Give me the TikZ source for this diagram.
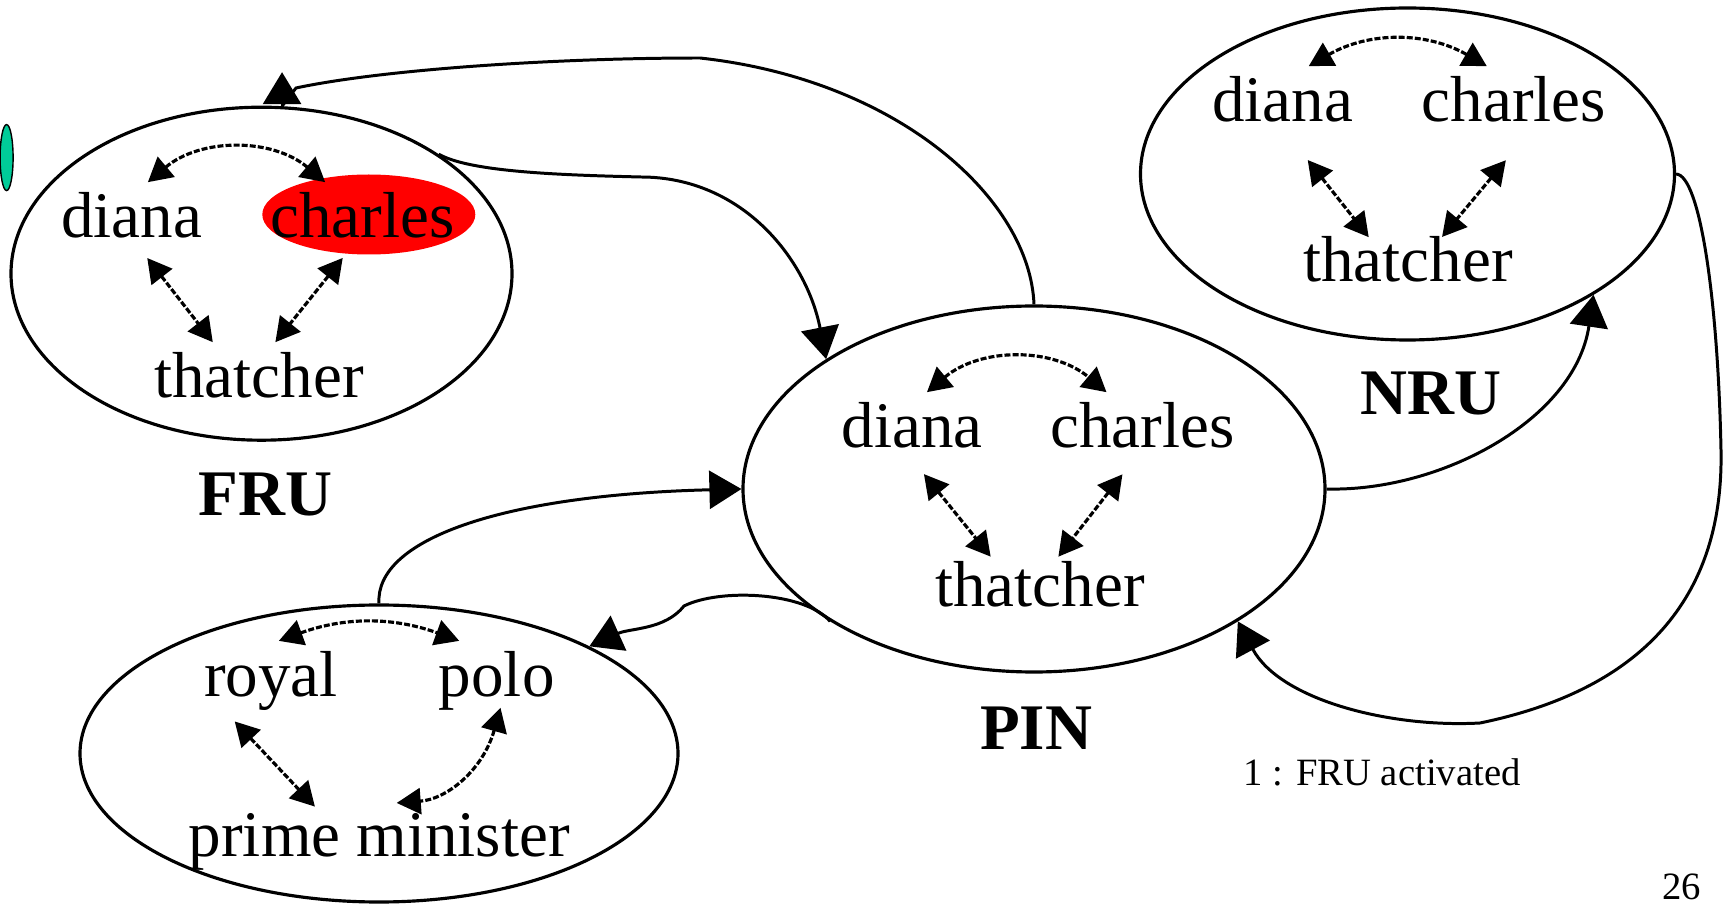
\documentclass[tikz,border=0pt]{standalone}
\usepackage{fontspec}
\setmainfont{Liberation Serif}
\usepackage{tikz}
\usetikzlibrary{arrows.meta, shapes.geometric}
\usepackage{xcolor}
\definecolor{activered}{RGB}{255,0,0}
\definecolor{markgreen}{RGB}{0,204,153}

\begin{document}
\begin{tikzpicture}[
    >=Triangle,
    % unit ellipses and the words inside them
    unit_node/.style={ellipse, draw=black, line width=0.9pt, inner sep=0pt},
    word_node/.style={font=\fontsize{18.5}{22}\selectfont, inner sep=0.1cm, anchor=base},
    % labels
    unit_label/.style={font=\fontsize{18.5}{22}\selectfont\bfseries, anchor=base},
    note_label/.style={font=\fontsize{11}{13}\selectfont, anchor=base},
    % links
    word_link/.style={{Triangle[length=0.24cm, width=0.26cm]}-{Triangle[length=0.24cm, width=0.26cm]}, line width=0.9pt, dash pattern=on 1.7pt off 0.6pt},
    unit_link/.style={-{Triangle[length=0.32cm, width=0.38cm]}, line width=0.85pt}
]
    \useasboundingbox (0,0) rectangle (17.34,9.03);

    % --- 1. UNITS ---
    \node[unit_node, minimum width=5.01cm, minimum height=3.33cm] (fru) at (2.615, 6.293) {};
    \node[unit_node, minimum width=5.82cm, minimum height=3.66cm] (pin) at (10.34, 4.14) {};
    \node[unit_node, minimum width=5.34cm, minimum height=3.32cm] (nru) at (14.075, 7.29) {};
    \node[unit_node, minimum width=5.98cm, minimum height=2.97cm] (rpm) at (3.79, 1.495) {};

    % active word and marker
    \node[ellipse, fill=activered, minimum width=2.13cm, minimum height=0.80cm, inner sep=0pt] (hot) at (3.688, 6.885) {};
    \node[ellipse, draw=black, line width=0.4pt, fill=markgreen, minimum width=0.13cm, minimum height=0.66cm, inner sep=0pt] (mark) at (0.066, 7.454) {};

    % --- 2. WORDS ---
    \node[word_node] (fruD) at (1.315, 6.65) {diana};
    \node[word_node] (fruC) at (3.625, 6.65) {charles};
    \node[word_node] (fruT) at (2.59, 5.05) {thatcher};

    \node[word_node] (pinD) at (9.12, 4.55) {diana};
    \node[word_node] (pinC) at (11.425, 4.55) {charles};
    \node[word_node] (pinT) at (10.40, 2.96) {thatcher};

    \node[word_node] (nruD) at (12.825, 7.81) {diana};
    \node[word_node] (nruC) at (15.14, 7.81) {charles};
    \node[word_node] (nruT) at (14.08, 6.21) {thatcher};

    \node[word_node] (roy) at (2.71, 2.063) {royal};
    \node[word_node] (polo) at (4.967, 2.063) {polo};
    \node[word_node] (pmin) at (3.793, 0.463) {prime minister};

    % --- 3. LABELS ---
    \node[unit_label] (fruName) at (2.655, 3.87) {FRU};
    \node[unit_label] (nruName) at (14.31, 4.88) {NRU};
    \node[unit_label] (pinName) at (10.36, 1.53) {PIN};
    \node[note_label] (note) at (13.82, 1.17) {1 : FRU activated};
    \node[note_label] (page) at (16.815, 0.04) {26};

    % --- 4. LINKS INSIDE UNITS ---
    \draw[word_link] (fruD.64) to[bend left=40] (fruC.138);
    \draw[word_link, shorten <=0.11cm] (fruD.-75) -- (fruT.144);
    \draw[word_link, shorten <=0.11cm] (fruC.-111) -- (fruT.64);

    \draw[word_link] (pinD.66) to[bend left=40] (pinC.137);
    \draw[word_link, shorten <=0.19cm, shorten >=-0.07cm] (pinD.south) -- (pinT.148);
    \draw[word_link, shorten <=0.19cm, shorten >=-0.07cm] (pinC.-104) -- (pinT.56);

    \draw[word_link] (nruD.52) to[bend left=30] (nruC.129);
    \draw[word_link, shorten <=0.34cm, shorten >=-0.14cm] (nruD.-83) -- (nruT.145);
    \draw[word_link, shorten <=0.35cm, shorten >=-0.14cm] (nruC.-67) -- (nruT.38);

    \draw[word_link] (roy.79) to[bend left=20] (polo.133);
    \draw[word_link, shorten >=-0.05cm] (roy.-132) -- (pmin.150);
    \draw[word_link, shorten <=-0.14cm] (polo.south) to[bend left=35] (pmin.66);

    % --- 5. LINKS BETWEEN UNITS ---
    \draw[line width=0.85pt] (pin.north) .. controls (10.30,7.03) and (9.00,8.23) .. (7.00,8.45)
        .. controls (5.50,8.45) and (3.80,8.33) .. (2.96,8.15) -- (fru.83);
    \draw[unit_link] (fru.83) -- ++(0,0.34);
    \draw[unit_link] (fru.34) .. controls (4.70,7.31) and (5.60,7.28) .. (6.41,7.26)
        .. controls (7.42,7.26) and (8.065,6.442) .. (pin.148);
    \draw[unit_link] (rpm.north) .. controls (3.75,3.63) and (5.00,4.08) .. (pin.west);
    \draw[unit_link] (pin.213) .. controls (8.05,3.11) and (7.20,3.15) .. (6.84,2.97)
        .. controls (6.65,2.73) and (6.30,2.75) .. (rpm.27);
    \draw[unit_link] (pin.east) .. controls (14.40,4.11) and (15.75,4.83) .. (nru.-33);
    \draw[unit_link] (nru.east) .. controls (17.00,7.28) and (17.18,6.03) .. (17.21,4.53)
        .. controls (17.24,3.03) and (16.40,2.13) .. (14.80,1.80)
        .. controls (13.90,1.75) and (12.80,2.03) .. (pin.-33);

\end{tikzpicture}
\end{document}
